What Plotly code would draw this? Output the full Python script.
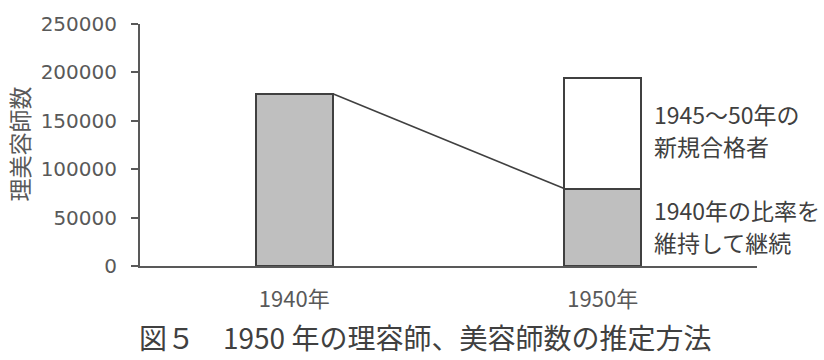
import plotly.graph_objects as go

# ---- data ----
years = ["1940年", "1950年"]
year_pos = [0, 1]
continued = [178000, 80000]      # 1940年の比率を維持して継続 (1940: total)
new_passers = [0, 114000]        # 1945～50年の新規合格者
y_ticks = [0, 50000, 100000, 150000, 200000, 250000]
y_tick_labels = ["0", "50000", "100000", "150000", "200000", "250000"]
bar_width = 0.25

label_new = ["1945～50年の", "新規合格者"]
label_cont = ["1940年の比率を", "維持して継続"]
y_title = "理美容師数"
caption = "図５　1950 年の理容師、美容師数の推定方法"

CJK = "Noto Sans CJK JP"
edge = "#404040"
txt = "#404040"

fig = go.Figure()
fig.add_trace(go.Bar(x=year_pos, y=continued, width=bar_width,
                     marker=dict(color="#bfbfbf", line=dict(color=edge, width=2)),
                     showlegend=False, hoverinfo="skip"))
fig.add_trace(go.Bar(x=year_pos, y=new_passers, width=bar_width,
                     marker=dict(color="white", line=dict(color=edge, width=2)),
                     showlegend=False, hoverinfo="skip"))
# connector line from top of 1940 bar to top of retained part of 1950 bar
fig.add_trace(go.Scatter(x=[year_pos[0] + bar_width / 2, year_pos[1] - bar_width / 2],
                         y=[continued[0], continued[1]], mode="lines",
                         line=dict(color=edge, width=1.6),
                         showlegend=False, hoverinfo="skip"))

def py(pix):
    return (266 - pix) / 247

annotations = []
for text, pix in zip(label_new + label_cont, [111, 144, 209, 241]):
    annotations.append(dict(text=text, xref="paper", yref="paper", x=0.830, y=py(pix),
                            xanchor="left", yanchor="middle", showarrow=False, align="left",
                            font=dict(family=CJK, size=23, color=txt)))
annotations.append(dict(text=y_title, xref="paper", yref="paper", x=(19 - 140) / 617, y=py(142),
                        xanchor="center", yanchor="middle", showarrow=False, textangle=-90,
                        font=dict(family=CJK, size=23, color="#595959")))
annotations.append(dict(text=caption, xref="paper", yref="paper", x=(425 - 140) / 617, y=py(338),
                        xanchor="center", yanchor="middle", showarrow=False,
                        font=dict(family=CJK, size=28, color=txt)))

fig.update_layout(
    width=824, height=360,
    margin=dict(l=140, r=67, t=19, b=94),
    barmode="stack",
    plot_bgcolor="white", paper_bgcolor="white",
    font=dict(family=CJK, color=txt),
    xaxis=dict(range=[-0.5, 1.5], tickvals=year_pos, ticktext=years,
               showline=True, linecolor="#595959", linewidth=2,
               showgrid=False, zeroline=False, ticks="",
               tickfont=dict(family=CJK, size=22, color="#595959"),
               ticklabelstandoff=13, fixedrange=True),
    yaxis=dict(range=[0, 250000], tickvals=y_ticks, ticktext=y_tick_labels,
               showline=True, linecolor="#595959", linewidth=2,
               showgrid=False, zeroline=False, ticks="outside", ticklen=7,
               tickcolor="#595959", tickwidth=2,
               tickfont=dict(family="DejaVu Sans", size=20, color="#595959"),
               ticklabelstandoff=10, fixedrange=True),
    annotations=annotations,
)

fig.write_html("out.html")
